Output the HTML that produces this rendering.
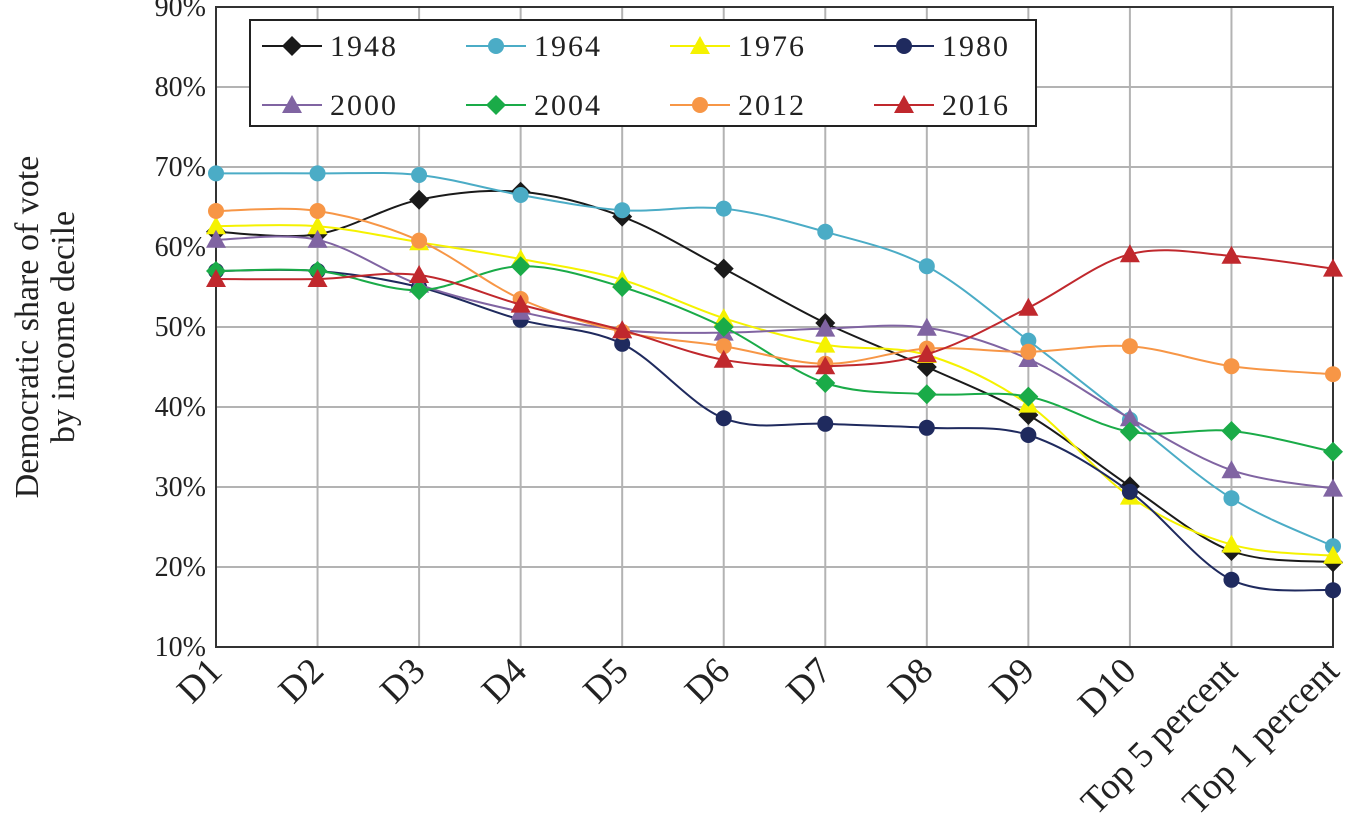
<!DOCTYPE html>
<html><head><meta charset="utf-8"><style>
html,body{margin:0;padding:0;background:#fff;}
svg{display:block;font-family:"Liberation Serif",serif;}
</style></head><body>
<svg id="c" width="1346" height="835" viewBox="0 0 1346 835" xmlns="http://www.w3.org/2000/svg"></svg>
<script>
const categories=["D1","D2","D3","D4","D5","D6","D7","D8","D9","D10","Top 5 percent","Top 1 percent"];
const yTicks=[10,20,30,40,50,60,70,80,90];
const seriesNames=["1948","1964","1976","1980","2000","2004","2012","2016"];
const v1948=[61.9,61.6,65.9,66.9,63.8,57.3,50.5,45,39,30.1,22,20.6];
const v1964=[69.2,69.2,69,66.5,64.6,64.8,61.9,57.6,48.3,38.4,28.6,22.6];
const v1976=[62.6,62.6,60.6,58.5,55.9,51.1,47.8,46.5,40.3,28.8,22.8,21.4];
const v1980=[57,57,55,50.9,47.9,38.6,37.9,37.4,36.5,29.4,18.4,17.1];
const v2000=[60.9,60.9,55.3,51.9,49.6,49.3,49.8,49.9,46,38.6,32.1,29.8];
const v2004=[57,57,54.6,57.6,55,50,43,41.6,41.3,36.9,37,34.4];
const v2012=[64.5,64.5,60.8,53.5,49.4,47.6,45.4,47.3,46.9,47.6,45.1,44.1];
const v2016=[56,56,56.5,52.8,49.6,45.9,45.1,46.6,52.4,59.1,58.9,57.3];
const seriesData=[v1948,v1964,v1976,v1980,v2000,v2004,v2012,v2016];
const colors=["#1a1a1a","#4bacc6","#f5f200","#1f2a5e","#8064a2","#1aab48","#f79646","#c0282d"];
const markers=["diamond","circle","triangle","circle","triangle","diamond","circle","triangle"];

const NS="http://www.w3.org/2000/svg";
const svg=document.getElementById('c');
const X0=216,X1=1333,Y0=7,Y1=647;
const xPos=i=>X0+i*(X1-X0)/(categories.length-1);
const yPos=v=>Y1-(v-10)/80*(Y1-Y0);
function el(t,a,p){const e=document.createElementNS(NS,t);for(const k in a)e.setAttribute(k,a[k]);(p||svg).appendChild(e);return e;}

const grid=el('g',{});


yTicks.forEach(t=>{el('line',{x1:X0,x2:X1,y1:yPos(t),y2:yPos(t),stroke:'#b3b3b3','stroke-width':2},grid);
 const tx=el('text',{x:X0-10,y:yPos(t)+9,'text-anchor':'end','font-size':28,fill:'#222'});tx.textContent=t+'%';
 
 });
categories.forEach((c,i)=>{el('line',{x1:xPos(i),x2:xPos(i),y1:Y0,y2:Y1,stroke:'#b3b3b3','stroke-width':2},grid);
 const x=xPos(i)+8,y=Y1+26;
 const tx=el('text',{x:x,y:y,'text-anchor':'end','font-size':37,fill:'#222',transform:`rotate(-45 ${x} ${y})`});tx.textContent=c;
 
 });
const frame=el('rect',{x:X0,y:Y0,width:X1-X0,height:Y1-Y0,fill:'none',stroke:'#333','stroke-width':2});



const yt=el('text',{transform:'translate(38,327) rotate(-90)','text-anchor':'middle','font-size':34,fill:'#222'});


const t1=el('tspan',{x:0,dy:0},yt);t1.textContent='Democratic share of vote';
const t2=el('tspan',{x:0,dy:36},yt);t2.textContent='by income decile';

function marker(g,type,x,y,col,s){
 if(type==='circle')return el('circle',{cx:x,cy:y,r:s*0.8,fill:col},g);
 if(type==='diamond')return el('polygon',{points:`${x},${y-s} ${x+s},${y} ${x},${y+s} ${x-s},${y}`,fill:col},g);
 return el('polygon',{points:`${x},${y-s} ${x+s},${y+s*0.8} ${x-s},${y+s*0.8}`,fill:col},g);
}
function smooth(pts){let d=`M${pts[0][0]},${pts[0][1]}`;
 for(let i=0;i<pts.length-1;i++){const p0=pts[Math.max(0,i-1)],p1=pts[i],p2=pts[i+1],p3=pts[Math.min(pts.length-1,i+2)];
  const k=1/6;d+=` C${p1[0]+(p2[0]-p0[0])*k},${p1[1]+(p2[1]-p0[1])*k} ${p2[0]-(p3[0]-p1[0])*k},${p2[1]-(p3[1]-p1[1])*k} ${p2[0]},${p2[1]}`;}
 return d;}
seriesData.forEach((vals,si)=>{
 const g=el('g',{});
 
 
 const pts=vals.map((v,i)=>[xPos(i),yPos(v)]);
 el('path',{d:smooth(pts),fill:'none',stroke:colors[si],'stroke-width':2},g);
 pts.forEach(p=>{const m=marker(g,markers[si],p[0],p[1],colors[si],10);
  
  });
});

const lg=el('g',{});


el('rect',{x:250,y:20,width:786,height:106,fill:'#fff',stroke:'#222','stroke-width':2},lg);
seriesNames.forEach((n,i)=>{
 const col=i%4,row=Math.floor(i/4);
 const x=262+col*204,y=46+row*59;
 const e=el('g',{},lg);
 
 
 el('line',{x1:x,x2:x+60,y1:y,y2:y,stroke:colors[i],'stroke-width':2},e);
 marker(e,markers[i],x+30,y,colors[i],10);
 const t=el('text',{x:x+68,y:y+10,'font-size':30,fill:'#222','letter-spacing':'2'},e);t.textContent=n;
});
</script>
</body></html>
